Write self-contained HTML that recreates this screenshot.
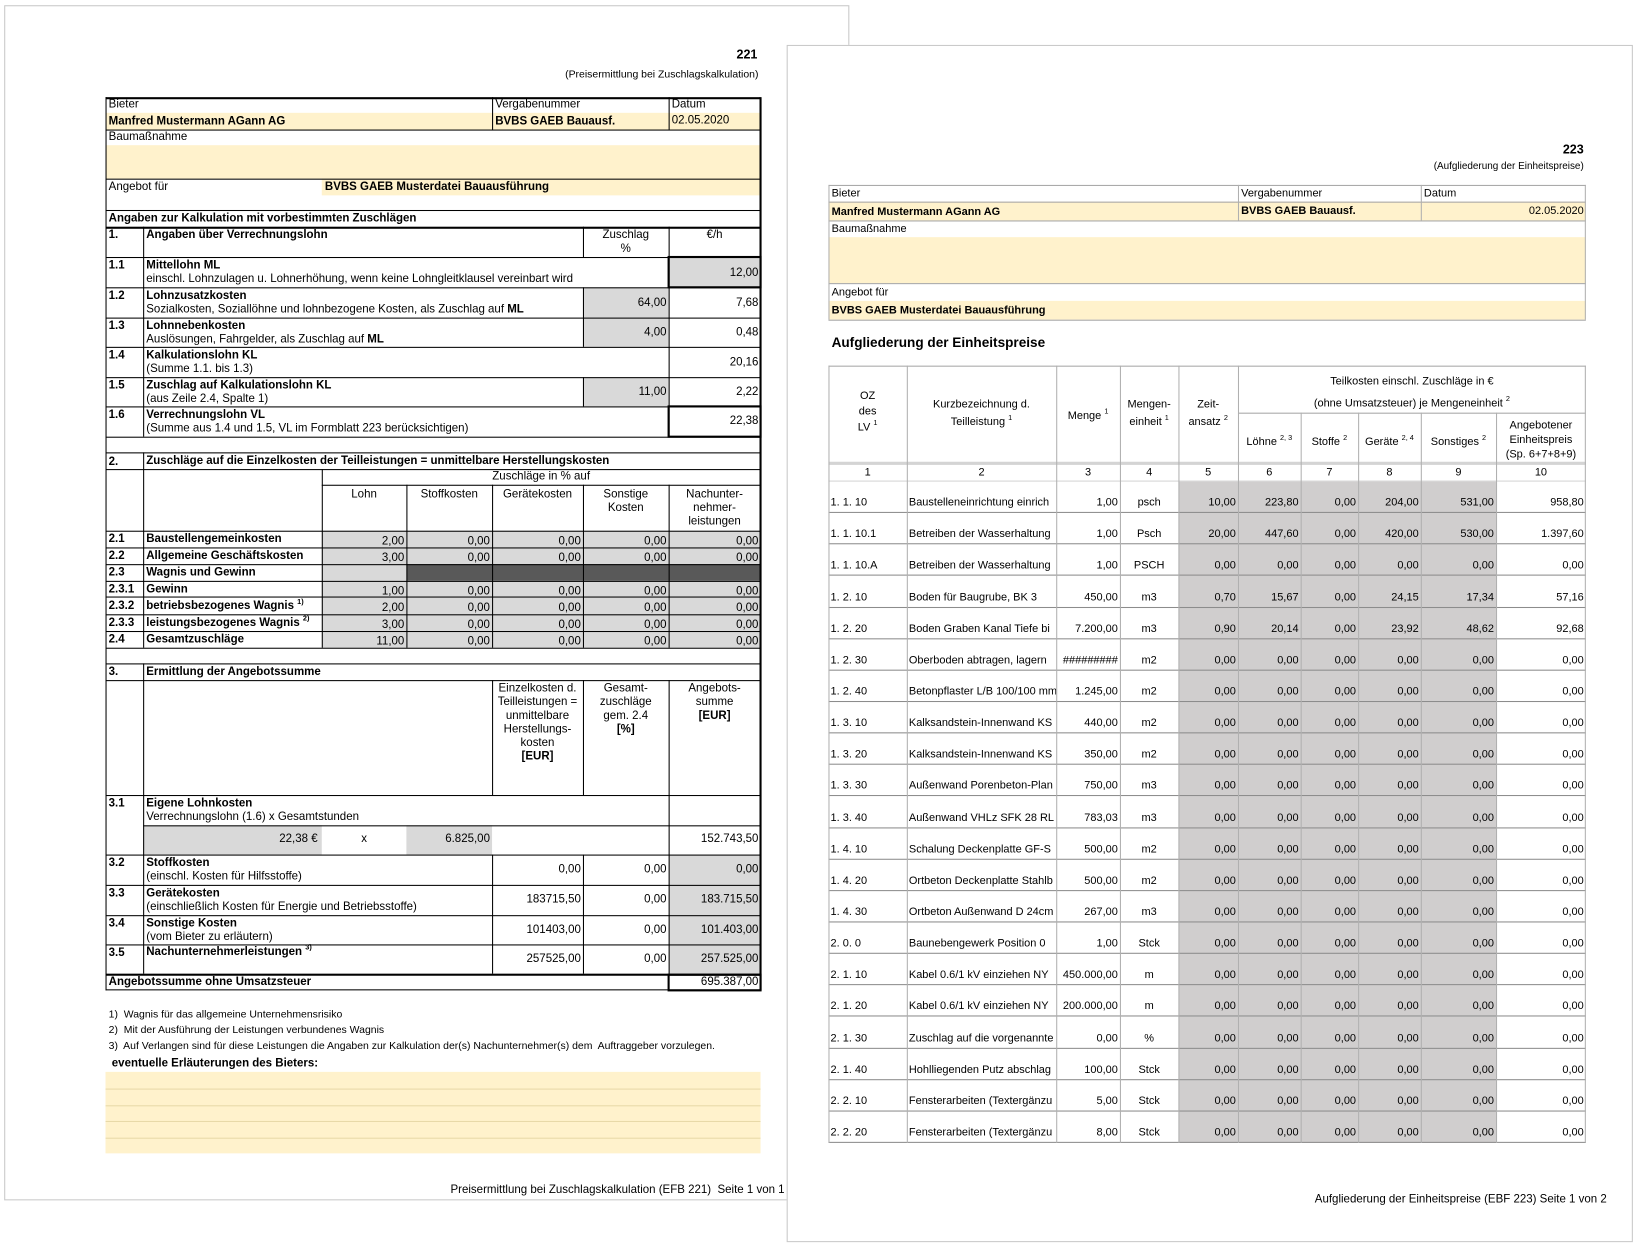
<!DOCTYPE html>
<html><head><meta charset="utf-8">
<style>
html,body{margin:0;padding:0;background:#fff;overflow:hidden}
body{width:1636px;height:1244px}
#w{position:absolute;left:0;top:0;width:1566px;height:1191px;transform:scale(1.0447);transform-origin:0 0;font-family:"Liberation Sans",Arial,sans-serif;font-size:11px;color:#000}
div{position:absolute;box-sizing:border-box}
.t{white-space:nowrap;line-height:13px}
.b{font-weight:bold}
.r{text-align:right}
.c{text-align:center}
.h{height:1px;background:#000}
.v{width:1px;background:#000}
.y{background:#fff2cc}
.g{background:#d9d9d9}
.dg{background:#595959}
.gh{height:1px;background:#a6a6a6}
.gv{width:1px;background:#b0b0b0}
sup{font-size:7px;vertical-align:5px;line-height:0}
.row{position:relative;height:30.15px;border-bottom:1px solid #8c8c8c;display:grid;grid-template-columns:75px 143px 61px 56px 57px 60px 55px 60px 72px 86px;align-items:end;font-size:10.5px;line-height:12px}
.row span{white-space:nowrap;overflow:hidden;padding:0 2px 3px 2px;text-align:right}
.row span:nth-child(1),.row span:nth-child(2){text-align:left}
.row span:nth-child(4){text-align:center}
</style></head><body><div id="w">

<!-- LEFT PAGE -->
<div style="left:4px;top:5px;width:809px;height:1144px;border:1px solid #c8c8c8;background:#fff"></div>
<div class="t b" style="left:600px;top:46px;width:125px;text-align:right;font-size:12px">221</div>
<div class="t r" style="left:480px;top:65px;width:246px;font-size:10px">(Preisermittlung bei Zuschlagskalkulation)</div>

<div class="y" style="left:101px;top:108px;width:627px;height:16px"></div>
<div class="y" style="left:101px;top:139px;width:627px;height:32px"></div>
<div class="y" style="left:308px;top:171px;width:420px;height:16px"></div>
<div class="t" style="left:104px;top:94px">Bieter</div>
<div class="t" style="left:474px;top:94px">Vergabenummer</div>
<div class="t" style="left:643px;top:94px">Datum</div>
<div class="t b" style="left:104px;top:110px">Manfred Mustermann AGann AG</div>
<div class="t b" style="left:474px;top:110px">BVBS GAEB Bauausf.</div>
<div class="t" style="left:643px;top:109px">02.05.2020</div>
<div class="t" style="left:104px;top:125px">Baumaßnahme</div>
<div class="t" style="left:104px;top:173px">Angebot für</div>
<div class="t b" style="left:311px;top:173px">BVBS GAEB Musterdatei Bauausführung</div>
<div class="h" style="left:101px;top:93px;width:627px;height:2px"></div>
<div class="h" style="left:101px;top:124px;width:627px"></div>
<div class="h" style="left:101px;top:171px;width:627px"></div>
<div class="h" style="left:101px;top:201px;width:627px"></div>
<div class="v" style="left:471px;top:93px;height:31px"></div>
<div class="v" style="left:640px;top:93px;height:31px"></div>

<div class="g" style="left:640px;top:246px;width:88px;height:29px"></div>
<div class="g" style="left:558px;top:275px;width:82px;height:57px"></div>
<div class="g" style="left:558px;top:361px;width:82px;height:28px"></div>
<div class="t b" style="left:104px;top:203px">Angaben zur Kalkulation mit vorbestimmten Zuschlägen</div>
<div class="t b" style="left:104px;top:219px">1.</div>
<div class="t b" style="left:140px;top:219px">Angaben über Verrechnungslohn</div>
<div class="t c" style="left:558px;top:219px;width:82px">Zuschlag<br>%</div>
<div class="t c" style="left:640px;top:219px;width:88px">€/h</div>
<div class="t b" style="left:104px;top:248px">1.1</div>
<div class="t" style="left:140px;top:248px"><b>Mittellohn ML</b><br>einschl. Lohnzulagen u. Lohnerhöhung, wenn keine Lohngleitklausel vereinbart wird</div>
<div class="t r" style="left:640px;top:255px;width:86px">12,00</div>
<div class="t b" style="left:104px;top:277px">1.2</div>
<div class="t" style="left:140px;top:277px"><b>Lohnzusatzkosten</b><br>Sozialkosten, Soziallöhne und lohnbezogene Kosten, als Zuschlag auf <b>ML</b></div>
<div class="t r" style="left:558px;top:284px;width:80px">64,00</div>
<div class="t r" style="left:640px;top:284px;width:86px">7,68</div>
<div class="t b" style="left:104px;top:306px">1.3</div>
<div class="t" style="left:140px;top:306px"><b>Lohnnebenkosten</b><br>Auslösungen, Fahrgelder, als Zuschlag auf <b>ML</b></div>
<div class="t r" style="left:558px;top:312px;width:80px">4,00</div>
<div class="t r" style="left:640px;top:312px;width:86px">0,48</div>
<div class="t b" style="left:104px;top:334px">1.4</div>
<div class="t" style="left:140px;top:334px"><b>Kalkulationslohn KL</b><br>(Summe 1.1. bis 1.3)</div>
<div class="t r" style="left:640px;top:341px;width:86px">20,16</div>
<div class="t b" style="left:104px;top:363px">1.5</div>
<div class="t" style="left:140px;top:363px"><b>Zuschlag auf Kalkulationslohn KL</b><br>(aus Zeile 2.4, Spalte 1)</div>
<div class="t r" style="left:558px;top:369px;width:80px">11,00</div>
<div class="t r" style="left:640px;top:369px;width:86px">2,22</div>
<div class="t b" style="left:104px;top:391px">1.6</div>
<div class="t" style="left:140px;top:391px"><b>Verrechnungslohn VL</b><br>(Summe aus 1.4 und 1.5, VL im Formblatt 223 berücksichtigen)</div>
<div class="t r" style="left:640px;top:397px;width:86px">22,38</div>
<div class="h" style="left:101px;top:217px;width:627px;height:2px"></div>
<div class="h" style="left:101px;top:246px;width:627px"></div>
<div class="h" style="left:101px;top:275px;width:627px"></div>
<div class="h" style="left:101px;top:304px;width:627px"></div>
<div class="h" style="left:101px;top:332px;width:627px"></div>
<div class="h" style="left:101px;top:361px;width:627px"></div>
<div class="h" style="left:101px;top:389px;width:627px"></div>
<div class="h" style="left:101px;top:418px;width:627px"></div>
<div class="h" style="left:101px;top:433px;width:627px"></div>
<div class="v" style="left:137px;top:217px;height:201px"></div>
<div class="v" style="left:558px;top:217px;height:29px"></div>
<div class="v" style="left:558px;top:275px;height:57px"></div>
<div class="v" style="left:558px;top:361px;height:28px"></div>
<div class="v" style="left:640px;top:217px;height:201px"></div>
<div style="left:639px;top:245px;width:90px;height:31px;border:2px solid #000"></div>
<div style="left:639px;top:388px;width:90px;height:31px;border:2px solid #000"></div>

<div class="g" style="left:308px;top:508px;width:420px;height:32px"></div>
<div class="g" style="left:308px;top:540px;width:81px;height:16px"></div>
<div class="dg" style="left:389px;top:540px;width:339px;height:16px"></div>
<div class="g" style="left:308px;top:556px;width:420px;height:64px"></div>
<div class="t b" style="left:104px;top:436px">2.</div>
<div class="t b" style="left:140px;top:435px">Zuschläge auf die Einzelkosten der Teilleistungen = unmittelbare Herstellungskosten</div>
<div class="t c" style="left:308px;top:450px;width:420px">Zuschläge in % auf</div>
<div class="t c" style="left:308px;top:467px;width:81px">Lohn</div>
<div class="t c" style="left:389px;top:467px;width:82px">Stoffkosten</div>
<div class="t c" style="left:471px;top:467px;width:87px">Gerätekosten</div>
<div class="t c" style="left:558px;top:467px;width:82px">Sonstige<br>Kosten</div>
<div class="t c" style="left:640px;top:467px;width:88px">Nachunter-<br>nehmer-<br>leistungen</div>
<div class="t b" style="left:104px;top:510px">2.1</div><div class="t b" style="left:140px;top:510px">Baustellengemeinkosten</div>
<div class="t b" style="left:104px;top:526px">2.2</div><div class="t b" style="left:140px;top:526px">Allgemeine Geschäftskosten</div>
<div class="t b" style="left:104px;top:542px">2.3</div><div class="t b" style="left:140px;top:542px">Wagnis und Gewinn</div>
<div class="t b" style="left:104px;top:558px">2.3.1</div><div class="t b" style="left:140px;top:558px">Gewinn</div>
<div class="t b" style="left:104px;top:574px">2.3.2</div><div class="t b" style="left:140px;top:574px">betriebsbezogenes Wagnis <sup>1)</sup></div>
<div class="t b" style="left:104px;top:590px">2.3.3</div><div class="t b" style="left:140px;top:590px">leistungsbezogenes Wagnis <sup>2)</sup></div>
<div class="t b" style="left:104px;top:606px">2.4</div><div class="t b" style="left:140px;top:606px">Gesamtzuschläge</div>
<div class="t r" style="left:308px;top:510px;width:79px;line-height:16px">2,00<br>3,00<br><br>1,00<br>2,00<br>3,00<br>11,00</div>
<div class="t r" style="left:389px;top:510px;width:80px;line-height:16px">0,00<br>0,00<br><br>0,00<br>0,00<br>0,00<br>0,00</div>
<div class="t r" style="left:471px;top:510px;width:85px;line-height:16px">0,00<br>0,00<br><br>0,00<br>0,00<br>0,00<br>0,00</div>
<div class="t r" style="left:558px;top:510px;width:80px;line-height:16px">0,00<br>0,00<br><br>0,00<br>0,00<br>0,00<br>0,00</div>
<div class="t r" style="left:640px;top:510px;width:86px;line-height:16px">0,00<br>0,00<br><br>0,00<br>0,00<br>0,00<br>0,00</div>
<div class="h" style="left:101px;top:449px;width:627px"></div>
<div class="h" style="left:308px;top:464px;width:420px"></div>
<div class="h" style="left:101px;top:508px;width:627px"></div>
<div class="h" style="left:101px;top:524px;width:627px"></div>
<div class="h" style="left:101px;top:540px;width:627px"></div>
<div class="h" style="left:101px;top:556px;width:627px"></div>
<div class="h" style="left:101px;top:571px;width:627px"></div>
<div class="h" style="left:101px;top:588px;width:627px"></div>
<div class="h" style="left:101px;top:604px;width:627px"></div>
<div class="h" style="left:101px;top:620px;width:627px"></div>
<div class="h" style="left:101px;top:635px;width:627px"></div>
<div class="v" style="left:137px;top:433px;height:187px"></div>
<div class="v" style="left:308px;top:449px;height:171px"></div>
<div class="v" style="left:389px;top:464px;height:156px"></div>
<div class="v" style="left:471px;top:464px;height:156px"></div>
<div class="v" style="left:558px;top:464px;height:156px"></div>
<div class="v" style="left:640px;top:464px;height:156px"></div>

<div class="g" style="left:137px;top:790px;width:171px;height:28px"></div>
<div class="g" style="left:389px;top:790px;width:82px;height:28px"></div>
<div class="g" style="left:640px;top:818px;width:88px;height:114px"></div>
<div class="t b" style="left:104px;top:637px">3.</div>
<div class="t b" style="left:140px;top:637px">Ermittlung der Angebotssumme</div>
<div class="t c" style="left:471px;top:653px;width:87px">Einzelkosten d.<br>Teilleistungen =<br>unmittelbare<br>Herstellungs-<br>kosten<br><b>[EUR]</b></div>
<div class="t c" style="left:558px;top:653px;width:82px">Gesamt-<br>zuschläge<br>gem. 2.4<br><b>[%]</b></div>
<div class="t c" style="left:640px;top:653px;width:88px">Angebots-<br>summe<br><b>[EUR]</b></div>
<div class="t b" style="left:104px;top:763px">3.1</div>
<div class="t" style="left:140px;top:763px"><b>Eigene Lohnkosten</b><br>Verrechnungslohn (1.6) x Gesamtstunden</div>
<div class="t r" style="left:137px;top:797px;width:167px">22,38 €</div>
<div class="t c" style="left:308px;top:797px;width:81px">x</div>
<div class="t r" style="left:389px;top:797px;width:80px">6.825,00</div>
<div class="t r" style="left:640px;top:797px;width:86px">152.743,50</div>
<div class="t b" style="left:104px;top:820px">3.2</div>
<div class="t" style="left:140px;top:820px"><b>Stoffkosten</b><br>(einschl. Kosten für Hilfsstoffe)</div>
<div class="t b" style="left:104px;top:849px">3.3</div>
<div class="t" style="left:140px;top:849px"><b>Gerätekosten</b><br>(einschließlich Kosten für Energie und Betriebsstoffe)</div>
<div class="t b" style="left:104px;top:878px">3.4</div>
<div class="t" style="left:140px;top:878px"><b>Sonstige Kosten</b><br>(vom Bieter zu erläutern)</div>
<div class="t b" style="left:104px;top:906px">3.5</div>
<div class="t b" style="left:140px;top:905px">Nachunternehmerleistungen <sup>3)</sup></div>
<div class="t r" style="left:471px;top:826px;width:85px">0,00</div>
<div class="t r" style="left:558px;top:826px;width:80px">0,00</div>
<div class="t r" style="left:640px;top:826px;width:86px">0,00</div>
<div class="t r" style="left:471px;top:855px;width:85px">183715,50</div>
<div class="t r" style="left:558px;top:855px;width:80px">0,00</div>
<div class="t r" style="left:640px;top:855px;width:86px">183.715,50</div>
<div class="t r" style="left:471px;top:884px;width:85px">101403,00</div>
<div class="t r" style="left:558px;top:884px;width:80px">0,00</div>
<div class="t r" style="left:640px;top:884px;width:86px">101.403,00</div>
<div class="t r" style="left:471px;top:912px;width:85px">257525,00</div>
<div class="t r" style="left:558px;top:912px;width:80px">0,00</div>
<div class="t r" style="left:640px;top:912px;width:86px">257.525,00</div>
<div class="t b" style="left:104px;top:934px">Angebotssumme ohne Umsatzsteuer</div>
<div class="t r" style="left:640px;top:934px;width:86px">695.387,00</div>
<div class="h" style="left:101px;top:651px;width:627px"></div>
<div class="h" style="left:101px;top:761px;width:627px"></div>
<div class="h" style="left:137px;top:790px;width:591px"></div>
<div class="h" style="left:101px;top:818px;width:627px"></div>
<div class="h" style="left:101px;top:847px;width:627px"></div>
<div class="h" style="left:101px;top:876px;width:627px"></div>
<div class="h" style="left:101px;top:904px;width:627px"></div>
<div class="h" style="left:101px;top:932px;width:627px;height:2px"></div>
<div class="h" style="left:101px;top:947px;width:627px"></div>
<div class="v" style="left:137px;top:635px;height:297px"></div>
<div class="v" style="left:471px;top:651px;height:110px"></div>
<div class="v" style="left:558px;top:651px;height:110px"></div>
<div class="v" style="left:471px;top:818px;height:114px"></div>
<div class="v" style="left:558px;top:818px;height:114px"></div>
<div class="v" style="left:640px;top:651px;height:281px"></div>
<div style="left:639px;top:932px;width:90px;height:17px;border:2px solid #000"></div>
<div class="v" style="left:101px;top:93px;height:855px"></div>
<div class="v" style="left:727px;top:93px;height:855px;width:2px"></div>

<div class="t" style="left:104px;top:964px;font-size:10px;line-height:15px">1)&nbsp; Wagnis für das allgemeine Unternehmensrisiko<br>2)&nbsp; Mit der Ausführung der Leistungen verbundenes Wagnis<br>3)&nbsp; Auf Verlangen sind für diese Leistungen die Angaben zur Kalkulation der(s) Nachunternehmer(s) dem&nbsp; Auftraggeber vorzulegen.</div>
<div class="t b" style="left:107px;top:1012px">eventuelle Erläuterungen des Bieters:</div>
<div class="y" style="left:101px;top:1026px;width:627px;height:78px"></div>
<div style="left:101px;top:1042px;width:627px;height:1px;background:#e8d9a8"></div>
<div style="left:101px;top:1058px;width:627px;height:1px;background:#e8d9a8"></div>
<div style="left:101px;top:1073px;width:627px;height:1px;background:#e8d9a8"></div>
<div style="left:101px;top:1089px;width:627px;height:1px;background:#e8d9a8"></div>
<div class="t r" style="left:300px;top:1133px;width:451px;font-size:11px">Preisermittlung bei Zuschlagskalkulation (EFB 221)&nbsp; Seite 1 von 1</div>

<!-- RIGHT PAGE -->
<div style="left:753px;top:43px;width:810px;height:1146px;border:1px solid #c8c8c8;background:#fff"></div>
<div class="t b" style="left:1400px;top:137px;width:116px;text-align:right;font-size:12px">223</div>
<div class="t r" style="left:1250px;top:153px;width:266px;font-size:9.5px">(Aufgliederung der Einheitspreise)</div>

<div class="y" style="left:793px;top:193px;width:725px;height:18px"></div>
<div class="y" style="left:793px;top:227px;width:725px;height:44px"></div>
<div class="y" style="left:793px;top:288px;width:725px;height:18px"></div>
<div class="gh" style="left:793px;top:177px;width:725px"></div>
<div class="gh" style="left:793px;top:193px;width:725px"></div>
<div class="gh" style="left:793px;top:211px;width:725px"></div>
<div class="gh" style="left:793px;top:271px;width:725px"></div>
<div class="gh" style="left:793px;top:306px;width:725px"></div>
<div class="gv" style="left:793px;top:177px;height:129px"></div>
<div class="gv" style="left:1517px;top:177px;height:129px"></div>
<div class="gv" style="left:1185px;top:177px;height:34px"></div>
<div class="gv" style="left:1360px;top:177px;height:34px"></div>
<div class="t" style="left:796px;top:179px;font-size:10.5px">Bieter</div>
<div class="t" style="left:1188px;top:179px;font-size:10.5px">Vergabenummer</div>
<div class="t" style="left:1363px;top:179px;font-size:10.5px">Datum</div>
<div class="t b" style="left:796px;top:197px;font-size:10.5px">Manfred Mustermann AGann AG</div>
<div class="t b" style="left:1188px;top:196px;font-size:10.5px">BVBS GAEB Bauausf.</div>
<div class="t r" style="left:1360px;top:196px;width:156px;font-size:10.5px">02.05.2020</div>
<div class="t" style="left:796px;top:213px;font-size:10.5px">Baumaßnahme</div>
<div class="t" style="left:796px;top:274px;font-size:10.5px">Angebot für</div>
<div class="t b" style="left:796px;top:291px;font-size:10.5px">BVBS GAEB Musterdatei Bauausführung</div>
<div class="t b" style="left:796px;top:320px;font-size:13px;line-height:16px">Aufgliederung der Einheitspreise</div>

<div class="gh" style="left:793px;top:350px;width:725px"></div>
<div class="gh" style="left:1185px;top:395px;width:333px"></div>
<div style="left:793px;top:442px;width:725px;height:3px;background:#d4d4d4"></div>
<div class="gh" style="left:793px;top:460px;width:725px;background:#d4d4d4"></div>
<div style="left:793px;top:350px;width:725px;font-size:10.5px;line-height:12px">
<div class="c" style="left:0;top:22px;width:75px;line-height:15px">OZ<br>des<br>LV <sup>1</sup></div>
<div class="c" style="left:75px;top:29px;width:143px;line-height:17px">Kurzbezeichnung d.<br>Teilleistung <sup>1</sup></div>
<div class="c" style="left:218px;top:42px;width:61px">Menge <sup>1</sup></div>
<div class="c" style="left:279px;top:29px;width:56px;line-height:17px">Mengen-<br>einheit <sup>1</sup></div>
<div class="c" style="left:335px;top:29px;width:57px;line-height:17px">Zeit-<br>ansatz <sup>2</sup></div>
<div class="c" style="left:392px;top:5px;width:333px;line-height:21px">Teilkosten einschl. Zuschläge in €<br>(ohne Umsatzsteuer) je Mengeneinheit <sup>2</sup></div>
<div class="c" style="left:392px;top:67px;width:60px">Löhne <sup>2, 3</sup></div>
<div class="c" style="left:452px;top:67px;width:55px">Stoffe <sup>2</sup></div>
<div class="c" style="left:507px;top:67px;width:60px">Geräte <sup>2, 4</sup></div>
<div class="c" style="left:567px;top:67px;width:72px">Sonstiges <sup>2</sup></div>
<div class="c" style="left:639px;top:50px;width:86px;line-height:14px">Angebotener<br>Einheitspreis<br>(Sp. 6+7+8+9)</div>
<div class="c" style="left:0;top:96px;width:75px">1</div>
<div class="c" style="left:75px;top:96px;width:143px">2</div>
<div class="c" style="left:218px;top:96px;width:61px">3</div>
<div class="c" style="left:279px;top:96px;width:56px">4</div>
<div class="c" style="left:335px;top:96px;width:57px">5</div>
<div class="c" style="left:392px;top:96px;width:60px">6</div>
<div class="c" style="left:452px;top:96px;width:55px">7</div>
<div class="c" style="left:507px;top:96px;width:60px">8</div>
<div class="c" style="left:567px;top:96px;width:72px">9</div>
<div class="c" style="left:639px;top:96px;width:86px">10</div>
</div>
<div style="left:1128px;top:461px;width:304px;height:633px;background:#d0cece"></div>

<div style="left:793px;top:461px;width:725px">
<div class="row"><span>1. 1. 10</span><span>Baustelleneinrichtung einrich</span><span>1,00</span><span>psch</span><span>10,00</span><span>223,80</span><span>0,00</span><span>204,00</span><span>531,00</span><span>958,80</span></div>
<div class="row"><span>1. 1. 10.1</span><span>Betreiben der Wasserhaltung</span><span>1,00</span><span>Psch</span><span>20,00</span><span>447,60</span><span>0,00</span><span>420,00</span><span>530,00</span><span>1.397,60</span></div>
<div class="row"><span>1. 1. 10.A</span><span>Betreiben der Wasserhaltung</span><span>1,00</span><span>PSCH</span><span>0,00</span><span>0,00</span><span>0,00</span><span>0,00</span><span>0,00</span><span>0,00</span></div>
<div class="row"><span>1. 2. 10</span><span>Boden für Baugrube, BK 3</span><span>450,00</span><span>m3</span><span>0,70</span><span>15,67</span><span>0,00</span><span>24,15</span><span>17,34</span><span>57,16</span></div>
<div class="row"><span>1. 2. 20</span><span>Boden Graben Kanal Tiefe bi</span><span>7.200,00</span><span>m3</span><span>0,90</span><span>20,14</span><span>0,00</span><span>23,92</span><span>48,62</span><span>92,68</span></div>
<div class="row"><span>1. 2. 30</span><span>Oberboden abtragen, lagern</span><span>#########</span><span>m2</span><span>0,00</span><span>0,00</span><span>0,00</span><span>0,00</span><span>0,00</span><span>0,00</span></div>
<div class="row"><span>1. 2. 40</span><span>Betonpflaster L/B 100/100 mm</span><span>1.245,00</span><span>m2</span><span>0,00</span><span>0,00</span><span>0,00</span><span>0,00</span><span>0,00</span><span>0,00</span></div>
<div class="row"><span>1. 3. 10</span><span>Kalksandstein-Innenwand KS</span><span>440,00</span><span>m2</span><span>0,00</span><span>0,00</span><span>0,00</span><span>0,00</span><span>0,00</span><span>0,00</span></div>
<div class="row"><span>1. 3. 20</span><span>Kalksandstein-Innenwand KS</span><span>350,00</span><span>m2</span><span>0,00</span><span>0,00</span><span>0,00</span><span>0,00</span><span>0,00</span><span>0,00</span></div>
<div class="row"><span>1. 3. 30</span><span>Außenwand Porenbeton-Plan</span><span>750,00</span><span>m3</span><span>0,00</span><span>0,00</span><span>0,00</span><span>0,00</span><span>0,00</span><span>0,00</span></div>
<div class="row"><span>1. 3. 40</span><span>Außenwand VHLz SFK 28 RL</span><span>783,03</span><span>m3</span><span>0,00</span><span>0,00</span><span>0,00</span><span>0,00</span><span>0,00</span><span>0,00</span></div>
<div class="row"><span>1. 4. 10</span><span>Schalung Deckenplatte GF-S</span><span>500,00</span><span>m2</span><span>0,00</span><span>0,00</span><span>0,00</span><span>0,00</span><span>0,00</span><span>0,00</span></div>
<div class="row"><span>1. 4. 20</span><span>Ortbeton Deckenplatte Stahlb</span><span>500,00</span><span>m2</span><span>0,00</span><span>0,00</span><span>0,00</span><span>0,00</span><span>0,00</span><span>0,00</span></div>
<div class="row"><span>1. 4. 30</span><span>Ortbeton Außenwand D 24cm</span><span>267,00</span><span>m3</span><span>0,00</span><span>0,00</span><span>0,00</span><span>0,00</span><span>0,00</span><span>0,00</span></div>
<div class="row"><span>2. 0. 0</span><span>Baunebengewerk Position 0</span><span>1,00</span><span>Stck</span><span>0,00</span><span>0,00</span><span>0,00</span><span>0,00</span><span>0,00</span><span>0,00</span></div>
<div class="row"><span>2. 1. 10</span><span>Kabel 0.6/1 kV einziehen NY</span><span>450.000,00</span><span>m</span><span>0,00</span><span>0,00</span><span>0,00</span><span>0,00</span><span>0,00</span><span>0,00</span></div>
<div class="row"><span>2. 1. 20</span><span>Kabel 0.6/1 kV einziehen NY</span><span>200.000,00</span><span>m</span><span>0,00</span><span>0,00</span><span>0,00</span><span>0,00</span><span>0,00</span><span>0,00</span></div>
<div class="row"><span>2. 1. 30</span><span>Zuschlag auf die vorgenannte</span><span>0,00</span><span>%</span><span>0,00</span><span>0,00</span><span>0,00</span><span>0,00</span><span>0,00</span><span>0,00</span></div>
<div class="row"><span>2. 1. 40</span><span>Hohlliegenden Putz abschlag</span><span>100,00</span><span>Stck</span><span>0,00</span><span>0,00</span><span>0,00</span><span>0,00</span><span>0,00</span><span>0,00</span></div>
<div class="row"><span>2. 2. 10</span><span>Fensterarbeiten (Textergänzu</span><span>5,00</span><span>Stck</span><span>0,00</span><span>0,00</span><span>0,00</span><span>0,00</span><span>0,00</span><span>0,00</span></div>
<div class="row"><span>2. 2. 20</span><span>Fensterarbeiten (Textergänzu</span><span>8,00</span><span>Stck</span><span>0,00</span><span>0,00</span><span>0,00</span><span>0,00</span><span>0,00</span><span>0,00</span></div>
</div>
<div class="gv" style="left:793px;top:350px;height:744px"></div>
<div class="gv" style="left:868px;top:350px;height:744px"></div>
<div class="gv" style="left:1011px;top:350px;height:744px"></div>
<div class="gv" style="left:1072px;top:350px;height:744px"></div>
<div class="gv" style="left:1128px;top:350px;height:744px"></div>
<div class="gv" style="left:1185px;top:350px;height:744px"></div>
<div class="gv" style="left:1245px;top:395px;height:699px"></div>
<div class="gv" style="left:1300px;top:395px;height:699px"></div>
<div class="gv" style="left:1360px;top:395px;height:699px"></div>
<div class="gv" style="left:1432px;top:395px;height:699px"></div>
<div class="gv" style="left:1517px;top:350px;height:744px"></div>

<div class="t r" style="left:1100px;top:1142px;width:438px;font-size:11px">Aufgliederung der Einheitspreise (EBF 223) Seite 1 von 2</div>
</div></body></html>
